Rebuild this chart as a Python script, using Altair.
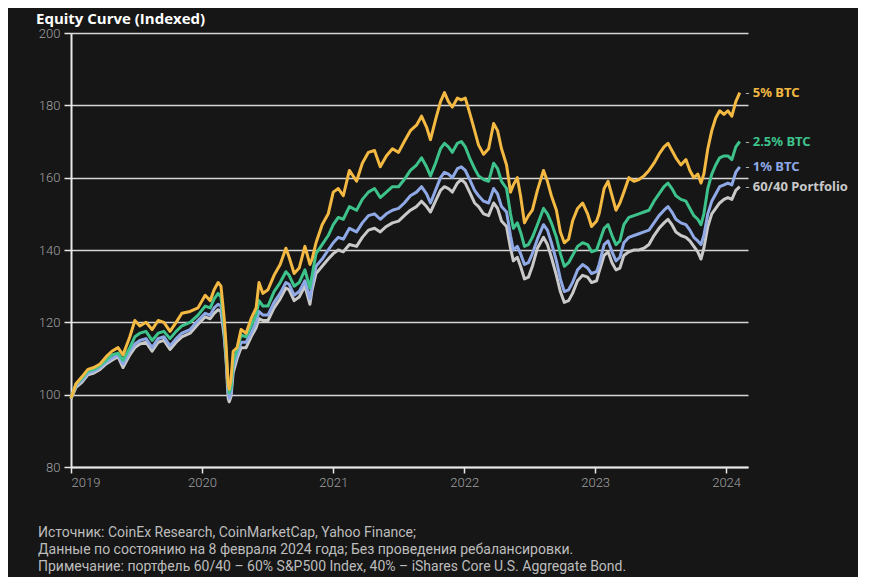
import altair as alt
import pandas as pd

dates = [
    "2019-01-01", "2019-01-15", "2019-02-01", "2019-02-17", "2019-03-06", "2019-03-23",
    "2019-04-09", "2019-04-25", "2019-05-12", "2019-05-26", "2019-06-14", "2019-06-28",
    "2019-07-12", "2019-07-29", "2019-08-15", "2019-09-01", "2019-09-17", "2019-10-04",
    "2019-10-21", "2019-11-06", "2019-11-29", "2019-12-21", "2020-01-10", "2020-01-24",
    "2020-02-04", "2020-02-15", "2020-02-23", "2020-03-03", "2020-03-08", "2020-03-14",
    "2020-03-17", "2020-03-22", "2020-03-28", "2020-04-08", "2020-04-19", "2020-05-03",
    "2020-05-17", "2020-05-31", "2020-06-08", "2020-06-19", "2020-07-03", "2020-07-20",
    "2020-08-06", "2020-08-22", "2020-08-31", "2020-09-14", "2020-09-28", "2020-10-14",
    "2020-10-28", "2020-11-03", "2020-11-14", "2020-12-01", "2020-12-18", "2021-01-01",
    "2021-01-15", "2021-01-29", "2021-02-15", "2021-03-07", "2021-03-23", "2021-04-09",
    "2021-04-26", "2021-05-12", "2021-05-29", "2021-06-15", "2021-07-02", "2021-07-18",
    "2021-08-04", "2021-08-21", "2021-09-04", "2021-09-18", "2021-09-29", "2021-10-13",
    "2021-10-27", "2021-11-07", "2021-11-18", "2021-11-29", "2021-12-13", "2021-12-24",
    "2022-01-04", "2022-01-16", "2022-01-30", "2022-02-10", "2022-02-24", "2022-03-10",
    "2022-03-24", "2022-04-04", "2022-04-15", "2022-04-29", "2022-05-10", "2022-05-18",
    "2022-05-29", "2022-06-07", "2022-06-18", "2022-06-29", "2022-07-10", "2022-07-24",
    "2022-08-10", "2022-08-21", "2022-09-01", "2022-09-15", "2022-09-26", "2022-10-07",
    "2022-10-19", "2022-10-30", "2022-11-13", "2022-11-27", "2022-12-11", "2022-12-22",
    "2023-01-05", "2023-01-12", "2023-01-26", "2023-02-06", "2023-02-17", "2023-02-28",
    "2023-03-11", "2023-03-22", "2023-04-05", "2023-04-19", "2023-05-03", "2023-05-17",
    "2023-05-31", "2023-06-14", "2023-06-28", "2023-07-12", "2023-07-23", "2023-08-03",
    "2023-08-14", "2023-08-28", "2023-09-11", "2023-09-22", "2023-10-03", "2023-10-14",
    "2023-10-23", "2023-10-31", "2023-11-11", "2023-11-22", "2023-12-03", "2023-12-14",
    "2023-12-26", "2024-01-06", "2024-01-17", "2024-01-28", "2024-02-08",
]

btc5 = [
    99.0, 103.0, 105.0, 107.0, 107.5, 108.5, 110.5, 112.0, 113.0, 111.0, 116.0, 120.5,
    119.0, 120.0, 118.0, 120.5, 120.0, 117.5, 120.0, 122.5, 123.0, 124.0, 127.5, 126.0,
    129.0, 131.0, 130.0, 121.0, 114.0, 103.0, 101.5, 104.0, 112.0, 113.0, 118.0, 117.0,
    121.0, 124.0, 131.0, 128.0, 129.0, 133.0, 136.0, 140.5, 138.0, 133.5, 135.0, 141.0,
    136.0, 137.5, 142.0, 147.0, 150.0, 156.0, 157.0, 155.0, 162.0, 159.0, 164.0, 167.0,
    167.5, 163.0, 166.0, 168.0, 167.0, 170.0, 173.0, 174.5, 177.0, 174.0, 170.5, 176.0,
    181.0, 183.5, 181.0, 179.5, 182.0, 181.5, 182.0, 178.0, 173.0, 169.0, 166.5, 168.0,
    175.0, 173.0, 168.0, 163.5, 156.0, 158.0, 160.0, 155.0, 147.5, 149.5, 151.0, 156.5,
    162.0, 159.0, 155.0, 151.0, 145.0, 142.0, 143.0, 148.0, 151.5, 153.0, 150.0, 146.5,
    148.0, 150.0, 157.0, 159.0, 155.0, 151.0, 153.0, 156.0, 160.0, 159.0, 159.5, 160.5,
    162.0, 164.0, 166.5, 168.5, 169.5, 167.5, 165.5, 163.5, 165.0, 162.0, 160.0, 161.0,
    158.5, 161.0, 168.0, 173.0, 176.5, 178.5, 177.5, 178.5, 177.0, 181.0, 183.5,
]

btc25 = [
    99.0, 103.0, 104.5, 106.5, 107.0, 108.0, 109.5, 111.0, 111.5, 109.5, 113.0, 116.0,
    117.0, 117.5, 115.0, 117.0, 117.5, 115.5, 117.5, 119.0, 120.0, 122.0, 124.5, 124.0,
    126.5, 128.0, 127.0, 119.0, 112.0, 103.0, 100.5, 102.0, 109.0, 112.5, 116.5, 116.0,
    119.0, 122.0, 126.0, 124.5, 124.5, 128.5, 131.0, 134.0, 133.0, 130.0, 131.0, 134.5,
    129.5, 133.0, 139.0, 141.5, 144.0, 147.0, 149.0, 148.5, 152.0, 151.0, 154.0, 156.0,
    157.0, 154.5, 156.0, 157.5, 157.5, 159.5, 162.0, 163.5, 165.5, 163.0, 160.5, 164.0,
    168.0, 169.5, 168.5, 167.0, 169.5, 170.0, 168.5, 165.5, 162.5, 160.5, 159.5, 159.0,
    164.0, 162.5, 159.0, 157.0, 150.0, 146.0, 147.5, 145.0, 141.0, 141.5, 143.5, 147.0,
    151.5, 150.0, 147.5, 143.5, 139.0, 135.5, 136.5, 138.5, 141.0, 142.0, 141.5, 139.5,
    140.0, 142.0, 146.0, 147.0, 144.0, 141.5, 142.5, 147.0, 149.0, 149.5, 150.0, 150.5,
    151.0, 153.5, 155.5, 157.5, 158.5, 157.0, 155.0, 154.0, 153.5, 151.5, 149.5, 148.5,
    147.0, 150.0, 157.0, 161.0, 163.5, 165.5, 166.0, 166.0, 165.0, 168.5, 170.0,
]

btc1 = [
    99.0, 102.5, 104.0, 106.0, 106.5, 107.5, 109.0, 110.0, 111.0, 108.5, 112.0, 114.0,
    115.0, 115.5, 113.0, 115.5, 116.0, 113.5, 115.5, 117.0, 118.0, 120.5, 122.5, 122.0,
    124.0, 125.0, 124.5, 117.5, 110.5, 101.0, 99.0, 100.5, 107.5, 111.0, 114.5, 114.5,
    117.0, 120.0, 123.0, 122.0, 122.0, 125.5, 128.0, 131.0, 130.5, 127.5, 128.5, 131.5,
    126.5, 130.5, 135.5, 137.5, 140.0, 142.0, 143.5, 143.0, 146.0, 145.0, 147.5, 149.5,
    150.0, 148.5, 150.0, 151.0, 151.5, 153.0, 155.0, 156.0, 157.5, 155.5, 153.0, 156.5,
    160.0, 161.5, 161.0, 160.0, 162.5, 163.0, 162.0, 159.5, 156.5, 155.0, 153.5, 153.0,
    157.0, 155.5, 152.0, 150.5, 144.0, 140.0, 141.0, 139.0, 136.0, 136.5, 139.0, 143.0,
    147.0, 145.5, 142.0, 137.0, 132.0, 128.5, 129.0, 131.0, 134.5, 136.0, 135.0, 133.5,
    134.0, 136.0, 141.5, 142.5, 139.5, 137.0, 138.0, 142.0, 143.5, 144.0, 144.5, 145.0,
    145.5, 147.5, 149.5, 151.0, 152.0, 150.5, 148.5, 147.5, 147.0, 145.5, 143.5, 142.5,
    141.5, 144.0, 150.0, 153.5, 155.5, 157.5, 158.0, 158.5, 158.0, 161.5, 163.0,
]

p6040 = [
    98.8, 102.0, 103.5, 105.5, 106.0, 107.0, 108.5, 109.5, 110.5, 107.5, 111.0, 113.0,
    114.0, 114.5, 112.0, 114.5, 115.0, 112.5, 114.5, 116.0, 117.0, 119.5, 121.5, 121.0,
    122.5, 123.5, 123.0, 116.0, 110.0, 99.0, 98.0, 99.5, 106.0, 110.0, 113.0, 113.0,
    116.0, 118.5, 121.0, 120.5, 120.5, 124.0, 126.5, 129.5, 129.0, 126.0, 127.0, 130.0,
    125.0, 129.0, 133.5, 135.5, 137.5, 139.0, 140.0, 139.5, 141.5, 141.0, 143.5, 145.5,
    146.0, 145.0, 146.5, 147.5, 148.0, 149.5, 151.0, 152.0, 153.5, 152.0, 150.5, 153.5,
    156.5, 157.5, 157.0, 156.0, 158.5, 159.5, 158.5, 156.0, 153.0, 152.0, 150.0, 149.5,
    153.0, 151.5, 148.0, 146.5, 140.5, 137.0, 138.0, 135.5, 132.0, 132.5, 135.5, 140.5,
    143.5, 141.5, 138.0, 133.0, 128.5, 125.5, 126.0, 128.0, 131.5, 133.0, 132.5, 131.0,
    131.5, 134.0, 138.5, 139.5, 136.5, 134.5, 135.0, 138.5, 139.5, 140.0, 140.0, 140.5,
    141.5, 144.0, 146.0, 147.5, 148.5, 147.0, 145.0, 144.0, 143.5, 142.5, 141.0, 139.5,
    137.5, 140.5, 146.5, 150.0, 151.5, 153.0, 154.0, 154.5, 154.0, 156.5, 157.5,
]

series_names = ["60/40 Portfolio", "1% BTC", "2.5% BTC", "5% BTC"]
series_colors = ["#c9c9c9", "#8fa9e6", "#3ec28b", "#f3b942"]
series_values = [p6040, btc1, btc25, btc5]

footer = (
    "Источник: CoinEx Research, CoinMarketCap, Yahoo Finance;\n"
    "Данные по состоянию на 8 февраля 2024 года; Без проведения ребалансировки.\n"
    "Примечание: портфель 60/40 – 60% S&P500 Index, 40% – iShares Core U.S. Aggregate Bond."
)

rows = []
for name, vals in zip(series_names, series_values):
    for d, v in zip(dates, vals):
        rows.append({"date": d, "series": name, "value": v})
df = pd.DataFrame(rows)

end_df = pd.DataFrame({
    "date": [dates[-1]] * 4,
    "series": series_names,
    "value": [vals[-1] for vals in series_values],
})

x_scale = alt.Scale(domain=["2019-01-01", "2024-03-02"])
y_scale = alt.Scale(domain=[80, 200])

x_axis = alt.Axis(
    format="%Y", tickCount={"interval": "year", "step": 1}, grid=False,
    domainColor="#e8e8e8", domainWidth=2, tickColor="#e8e8e8", tickWidth=1.5,
    tickSize=6, labelColor="#a0a0a0", labelFontSize=13, labelFont="Roboto",
    labelFontWeight=300, labelPadding=3, title=None,
)
y_axis = alt.Axis(
    values=[80, 100, 120, 140, 160, 180, 200], grid=True, gridColor="#d6d6d6",
    gridWidth=1.6, domainColor="#e8e8e8", domainWidth=2, tickColor="#e8e8e8",
    tickWidth=1.5, tickSize=7, labelColor="#a0a0a0", labelFontSize=13,
    labelFont="Roboto", labelFontWeight=300, labelPadding=4, title=None,
)

layers = []
for name, color in zip(series_names, series_colors):
    layers.append(
        alt.Chart(df)
        .transform_filter(alt.datum.series == name)
        .mark_line(color=color, strokeWidth=3, strokeJoin="round")
        .encode(
            x=alt.X("date:T", scale=x_scale, axis=x_axis),
            y=alt.Y("value:Q", scale=y_scale, axis=y_axis),
        )
    )

color_scale = alt.Scale(domain=series_names, range=series_colors)

dash = alt.Chart(end_df).mark_text(
    text="-", align="left", baseline="middle", dx=6, fontSize=12, color="#bbbbbb", font="Roboto"
).encode(x="date:T", y="value:Q")

labels = alt.Chart(end_df).mark_text(
    align="left", baseline="middle", dx=13, fontSize=13, fontWeight="bold", font="Noto Sans"
).encode(
    x="date:T", y="value:Q", text="series:N",
    color=alt.Color("series:N", scale=color_scale, legend=None),
)

foot = alt.Chart(pd.DataFrame({"t": [footer]})).mark_text(
    align="left", baseline="middle", lineBreak="\n", lineHeight=17,
    fontSize=14, color="#bdbdbd", font="Roboto",
).encode(text="t:N", x=alt.value(-33), y=alt.value(500))

chart = alt.layer(*layers, dash, labels, foot).properties(
    width=677, height=434,
    title=alt.Title(
        "Equity Curve (Indexed)", anchor="start", dx=-2, offset=0,
        fontSize=15, font="Open Sans", fontWeight="bold", color="#ffffff",
    ),
    autosize=alt.AutoSizeParams(type="none"),
    padding={"left": 63, "top": 25, "right": 110, "bottom": 110},
    background="#161616",
).configure_view(stroke=None)

chart.save("out.html", embed_options={"renderer": "svg", "actions": False})
